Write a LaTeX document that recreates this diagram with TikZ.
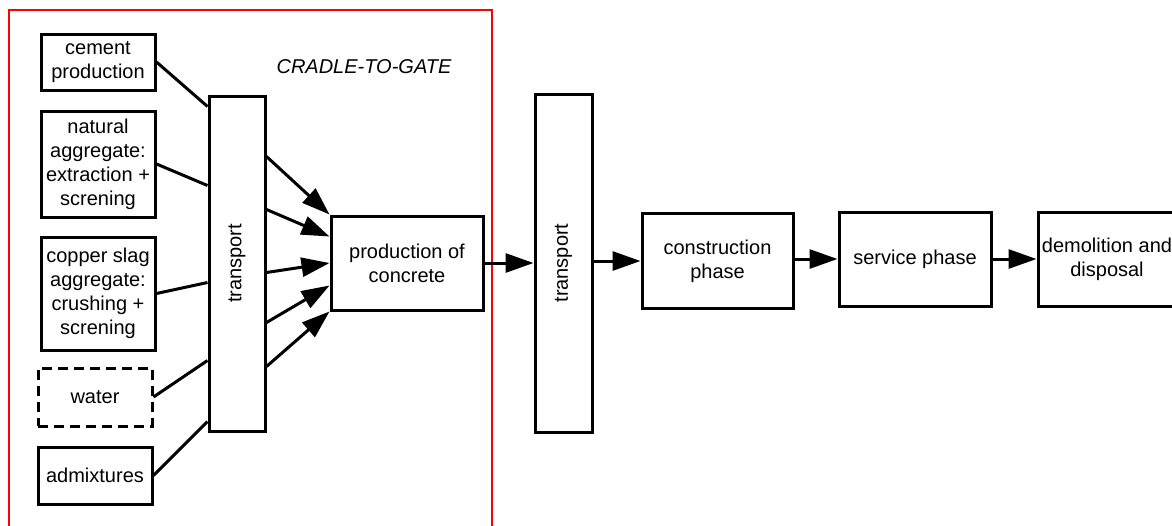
\documentclass[tikz,border=0pt]{standalone}
\usepackage{fontspec}
\setmainfont{Liberation Sans}
\usepackage{graphicx}
\usetikzlibrary{arrows.meta}
\begin{document}
\begin{tikzpicture}[x=1pt,y=-1pt,
  box/.style={draw, line width=3pt, inner sep=0pt, align=center,
    font=\fontsize{20}{24}\selectfont},
  link/.style={line width=3pt},
  flow/.style={line width=3pt, -{Triangle[length=28pt,width=19pt]}},
  frame/.style={draw=red, line width=2pt}]
\useasboundingbox (0,0) rectangle (1172,525);
\draw[frame] (9,10) rectangle (492,545);
\node[font=\itshape\fontsize{20}{24}\selectfont] (ctg) at (364,67) {CRADLE-TO-GATE};
\node[box, minimum width=114pt, minimum height=56pt] (cem) at (98,62) {cement\\production};
\node[box, minimum width=114pt, minimum height=106pt] (nat) at (98,164) {natural\\aggregate:\\extraction +\\screning};
\node[box, minimum width=114pt, minimum height=113pt] (cop) at (98,293.5) {copper slag\\aggregate:\\crushing +\\screning};
\node[box, dash pattern=on 10pt off 6pt, minimum width=114pt, minimum height=58pt] (wat) at (95,397) {water};
\node[box, minimum width=114pt, minimum height=57pt] (adm) at (95,475.5) {admixtures};
\node[box, minimum width=56pt, minimum height=335pt] (t1) at (237,263.5) {\rotatebox{90}{transport}};
\node[box, minimum width=152pt, minimum height=94pt] (prod) at (407,263) {production of\\concrete};
\node[box, minimum width=57pt, minimum height=338pt] (t2) at (563.5,263) {\rotatebox{90}{transport}};
\node[box, minimum width=151pt, minimum height=95pt] (cons) at (717.5,261) {construction\\phase};
\node[box, minimum width=152pt, minimum height=94pt] (serv) at (915,259) {service phase};
\node[box, minimum width=138pt, minimum height=94pt] (demo) at (1107,259) {demolition and\\disposal};
% inputs to transport
\draw[link] (cem.east) -- ([yshift=-12pt]t1.north west);
\draw[link] (nat.east) -- ([yshift=-91pt]t1.north west);
\draw[link] (cop.east) -- ([yshift=-188pt]t1.north west);
\draw[link] (wat.east) -- ([yshift=-266pt]t1.north west);
\draw[link] (adm.east) -- ([yshift=-327pt]t1.north west);
% transport to production
\draw[flow] ([yshift=-62pt]t1.north east) -- (prod.north west);
\draw[flow] ([yshift=-115pt]t1.north east) -- ([yshift=-22pt]prod.north west);
\draw[flow] ([yshift=-178pt]t1.north east) -- (prod.west);
\draw[flow] ([yshift=-228pt]t1.north east) -- ([yshift=-71pt]prod.north west);
\draw[flow] ([yshift=-272pt]t1.north east) -- (prod.south west);
% main chain
\draw[flow] (prod.east) -- (t2.west |- prod.east);
\draw[flow] (t2.east |- cons.west) -- (cons.west);
\draw[flow] (cons.east |- serv.west) -- (serv.west);
\draw[flow] (serv.east) -- (demo.west);
\end{tikzpicture}
\end{document}
